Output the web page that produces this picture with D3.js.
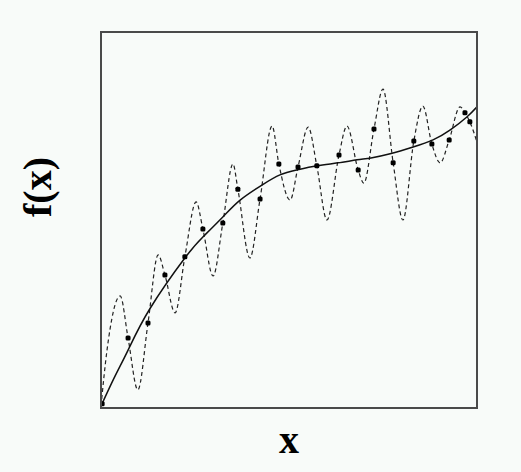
<!DOCTYPE html>
<html>
<head>
<meta charset="utf-8">
<script src="https://cdn.jsdelivr.net/npm/d3@7"></script>
<style>
  body { margin: 0; background: #f8fbf9; }
  svg { display: block; }
</style>
</head>
<body>
<svg width="521" height="472"></svg>
<script>
// smooth trend f(x)
const trendX = [0, 0.35, 0.72, 1.30, 2.23, 2.71, 3.24, 3.70, 4.28, 4.76, 5.21, 5.74, 6.30, 6.81, 7.18, 7.69, 8.30, 8.83, 9.28, 9.73, 10];
const trendY = [0.05, 0.80, 1.54, 2.64, 3.99, 4.55, 5.08, 5.53, 5.93, 6.20, 6.33, 6.44, 6.52, 6.60, 6.65, 6.76, 6.94, 7.13, 7.39, 7.74, 8.01];

// oscillating (dashed) curve: peaks, troughs and points in between
const waveX = [0, 0.16, 0.51, 0.72, 0.98, 1.25, 1.52, 1.70, 1.97, 2.23, 2.53, 2.71, 2.98, 3.24, 3.51, 3.64, 3.96, 4.23, 4.55, 4.73, 5.03, 5.24, 5.51, 5.74, 6.01, 6.33, 6.54, 6.84, 6.99, 7.26, 7.50, 7.77, 8.03, 8.32, 8.56, 8.80, 9.02, 9.26, 9.55, 9.68, 9.81, 10];
const waveY = [0.05, 1.54, 2.98, 1.86, 0.48, 2.26, 4.07, 3.54, 2.53, 4.02, 5.48, 4.76, 3.51, 4.92, 6.49, 5.82, 3.99, 5.56, 7.50, 6.49, 5.53, 6.41, 7.47, 6.44, 5.00, 6.73, 7.50, 6.33, 5.98, 7.42, 8.48, 6.52, 5.00, 7.10, 8.03, 7.02, 6.52, 7.13, 8.01, 7.85, 7.61, 7.07];

// sample points
const dotX = [0.03, 0.72, 1.25, 1.70, 2.23, 2.71, 3.24, 3.64, 4.23, 4.73, 5.24, 5.74, 6.33, 6.84, 7.26, 7.77, 8.32, 8.80, 9.26, 9.68, 9.81];
const dotY = [0.11, 1.86, 2.26, 3.54, 4.02, 4.76, 4.92, 5.82, 5.56, 6.49, 6.41, 6.44, 6.73, 6.33, 7.42, 6.52, 7.10, 7.02, 7.13, 7.85, 7.61];

const svg = d3.select("svg");
const m = {left: 101, right: 477, top: 32, bottom: 408};

const x = d3.scaleLinear().domain([0, 10]).range([m.left, m.right]);
const y = d3.scaleLinear().domain([0, 10]).range([m.bottom, m.top]);

const trend = trendX.map((d, i) => [d, trendY[i]]);
const wave = waveX.map((d, i) => [d, waveY[i]]);
const dots = dotX.map((d, i) => [d, dotY[i]]);

svg.append("defs").append("clipPath").attr("id", "clip")
  .append("rect")
    .attr("x", m.left).attr("y", m.top)
    .attr("width", m.right - m.left).attr("height", m.bottom - m.top);

const plot = svg.append("g").attr("clip-path", "url(#clip)");

const line = d3.line()
  .x(d => x(d[0]))
  .y(d => y(d[1]));

plot.append("path")
  .datum(wave)
  .attr("fill", "none")
  .attr("stroke", "#222")
  .attr("stroke-width", 1.2)
  .attr("stroke-dasharray", "4,3")
  .attr("d", line.curve(d3.curveMonotoneX));

plot.append("path")
  .datum(trend)
  .attr("fill", "none")
  .attr("stroke", "#111")
  .attr("stroke-width", 1.5)
  .attr("d", line.curve(d3.curveNatural));

plot.selectAll("rect.dot")
  .data(dots)
  .enter()
  .append("rect")
    .attr("class", "dot")
    .attr("x", d => x(d[0]) - 2.5)
    .attr("y", d => y(d[1]) - 2.5)
    .attr("width", 5)
    .attr("height", 5)
    .attr("rx", 1.5)
    .attr("fill", "#000");

// frame
svg.append("rect")
  .attr("x", m.left).attr("y", m.top)
  .attr("width", m.right - m.left).attr("height", m.bottom - m.top)
  .attr("fill", "none")
  .attr("stroke", "#4a4a4a")
  .attr("stroke-width", 2);

svg.append("text")
  .attr("x", (m.left + m.right) / 2)
  .attr("y", 453)
  .attr("text-anchor", "middle")
  .style("font-family", "'Liberation Serif', 'Times New Roman', serif")
  .style("font-weight", "bold")
  .style("font-size", "40px")
  .text("x");

svg.append("text")
  .attr("transform", "translate(51,187) rotate(-90)")
  .attr("text-anchor", "middle")
  .style("font-family", "'Liberation Serif', 'Times New Roman', serif")
  .style("font-weight", "bold")
  .style("font-size", "40px")
  .text("f(x)");
</script>
</body>
</html>
